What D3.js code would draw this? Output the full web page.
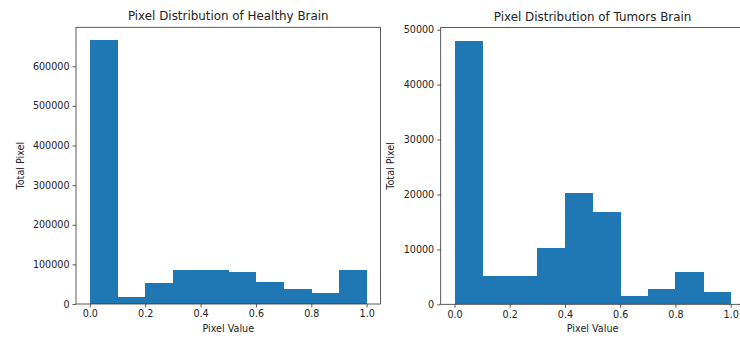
<!DOCTYPE html>
<html><head><meta charset="utf-8">
<script src="https://cdn.jsdelivr.net/npm/d3@7"></script>
<style>
body{margin:0;background:#fff;}
svg text{font-family:"DejaVu Sans",sans-serif;fill:#222;}
</style></head>
<body><svg id="c" width="740" height="338"></svg>
<script>
const binEdges = [0,0.1,0.2,0.3,0.4,0.5,0.6,0.7,0.8,0.9,1.0];
const healthyCounts = [665000,18000,52000,85500,87000,80000,54500,38500,27000,87000];
const tumorCounts = [48000,5100,5100,10300,20300,16800,1500,2700,5900,2300];
const xTicks = [0,0.2,0.4,0.6,0.8,1.0];
const healthyYTicks = [0,100000,200000,300000,400000,500000,600000];
const tumorYTicks = [0,10000,20000,30000,40000,50000];
const titles = ["Pixel Distribution of Healthy Brain","Pixel Distribution of Tumors Brain"];

const svg = d3.select("#c");
function panel(left, right, top, bottom, counts, yTicks, title, ylabX){
  const g = svg.append("g");
  const x = d3.scaleLinear().domain([-0.05,1.05]).range([left,right]);
  const ymax = d3.max(counts)*1.05;
  const y = d3.scaleLinear().domain([0,ymax]).range([bottom,top]);
  const bins = counts.map((c,i)=>({x0:binEdges[i],x1:binEdges[i+1],c}));
  g.selectAll("rect.bar").data(bins).enter().append("rect")
    .attr("x",d=>x(d.x0)).attr("width",d=>x(d.x1)-x(d.x0)+0.5)
    .attr("y",d=>y(d.c)).attr("height",d=>y(0)-y(d.c))
    .attr("fill","#1f77b4").attr("shape-rendering","crispEdges");
  const xa = g.append("g").attr("transform",`translate(0,${bottom})`)
    .call(d3.axisBottom(x).tickValues(xTicks).tickFormat(d3.format(".1f")).tickSizeOuter(0).tickSize(3.5).tickPadding(3));
  const ya = g.append("g").attr("transform",`translate(${left},0)`)
    .call(d3.axisLeft(y).tickValues(yTicks).tickFormat(d3.format("d")).tickSizeOuter(0).tickSize(3.5).tickPadding(3));
  [xa,ya].forEach(a=>{
    a.select(".domain").remove();
    a.selectAll("line").attr("stroke","#333").attr("stroke-width",0.8);
    a.selectAll("text").attr("font-size","9.6px").attr("fill","#222").style("font-family","DejaVu Sans");
  });
  g.append("rect").attr("x",left).attr("y",top).attr("width",right-left).attr("height",bottom-top)
    .attr("fill","none").attr("stroke","#333").attr("stroke-width",0.8);
  g.append("text").attr("x",(left+right)/2).attr("y",top-7).attr("text-anchor","middle")
    .attr("font-size","11.9px").text(title);
  g.append("text").attr("x",(x(0)+x(1))/2).attr("y",bottom+28).attr("text-anchor","middle")
    .attr("font-size","9.6px").text("Pixel Value");
  g.append("text").attr("transform",`translate(${ylabX},${(top+bottom)/2}) rotate(-90)`)
    .attr("text-anchor","middle").attr("font-size","9.6px").text("Total Pixel");
}
panel(76, 380.5, 27.3, 304, healthyCounts, healthyYTicks, titles[0], 24);
panel(440.7, 744.5, 27.5, 304.3, tumorCounts, tumorYTicks, titles[1], 394);
</script></body></html>
